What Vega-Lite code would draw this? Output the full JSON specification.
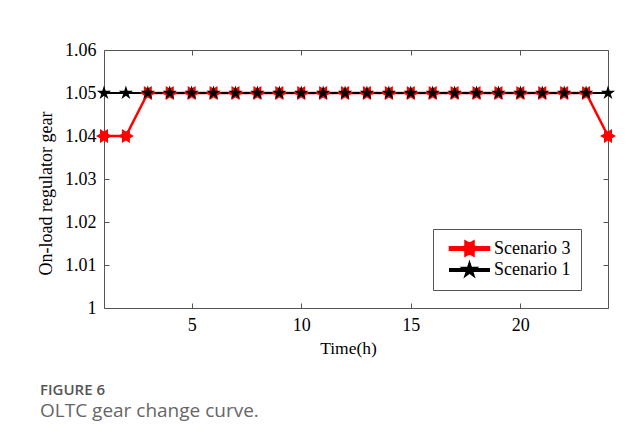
{
  "$schema": "https://vega.github.io/schema/vega-lite/v6.json",
  "width": 504,
  "height": 258,
  "autosize": {"type": "none"},
  "padding": {"left": 104, "top": 50, "right": 36, "bottom": 131},
  "background": "white",
  "title": {
    "text": "FIGURE 6",
    "subtitle": "OLTC gear change curve.",
    "orient": "bottom",
    "anchor": "start",
    "frame": "group",
    "dx": -64,
    "offset": 26,
    "font": "Open Sans",
    "fontSize": 15,
    "fontWeight": 600,
    "color": "#555555",
    "subtitleFont": "Open Sans",
    "subtitleFontSize": 19,
    "subtitleFontWeight": "normal",
    "subtitleColor": "#666666",
    "subtitlePadding": 4
  },
  "data": {
    "values": [
      {"hour": 1, "gear": 1.04, "series": "Scenario 3"},
      {"hour": 2, "gear": 1.04, "series": "Scenario 3"},
      {"hour": 3, "gear": 1.05, "series": "Scenario 3"},
      {"hour": 4, "gear": 1.05, "series": "Scenario 3"},
      {"hour": 5, "gear": 1.05, "series": "Scenario 3"},
      {"hour": 6, "gear": 1.05, "series": "Scenario 3"},
      {"hour": 7, "gear": 1.05, "series": "Scenario 3"},
      {"hour": 8, "gear": 1.05, "series": "Scenario 3"},
      {"hour": 9, "gear": 1.05, "series": "Scenario 3"},
      {"hour": 10, "gear": 1.05, "series": "Scenario 3"},
      {"hour": 11, "gear": 1.05, "series": "Scenario 3"},
      {"hour": 12, "gear": 1.05, "series": "Scenario 3"},
      {"hour": 13, "gear": 1.05, "series": "Scenario 3"},
      {"hour": 14, "gear": 1.05, "series": "Scenario 3"},
      {"hour": 15, "gear": 1.05, "series": "Scenario 3"},
      {"hour": 16, "gear": 1.05, "series": "Scenario 3"},
      {"hour": 17, "gear": 1.05, "series": "Scenario 3"},
      {"hour": 18, "gear": 1.05, "series": "Scenario 3"},
      {"hour": 19, "gear": 1.05, "series": "Scenario 3"},
      {"hour": 20, "gear": 1.05, "series": "Scenario 3"},
      {"hour": 21, "gear": 1.05, "series": "Scenario 3"},
      {"hour": 22, "gear": 1.05, "series": "Scenario 3"},
      {"hour": 23, "gear": 1.05, "series": "Scenario 3"},
      {"hour": 24, "gear": 1.04, "series": "Scenario 3"},
      {"hour": 1, "gear": 1.05, "series": "Scenario 1"},
      {"hour": 2, "gear": 1.05, "series": "Scenario 1"},
      {"hour": 3, "gear": 1.05, "series": "Scenario 1"},
      {"hour": 4, "gear": 1.05, "series": "Scenario 1"},
      {"hour": 5, "gear": 1.05, "series": "Scenario 1"},
      {"hour": 6, "gear": 1.05, "series": "Scenario 1"},
      {"hour": 7, "gear": 1.05, "series": "Scenario 1"},
      {"hour": 8, "gear": 1.05, "series": "Scenario 1"},
      {"hour": 9, "gear": 1.05, "series": "Scenario 1"},
      {"hour": 10, "gear": 1.05, "series": "Scenario 1"},
      {"hour": 11, "gear": 1.05, "series": "Scenario 1"},
      {"hour": 12, "gear": 1.05, "series": "Scenario 1"},
      {"hour": 13, "gear": 1.05, "series": "Scenario 1"},
      {"hour": 14, "gear": 1.05, "series": "Scenario 1"},
      {"hour": 15, "gear": 1.05, "series": "Scenario 1"},
      {"hour": 16, "gear": 1.05, "series": "Scenario 1"},
      {"hour": 17, "gear": 1.05, "series": "Scenario 1"},
      {"hour": 18, "gear": 1.05, "series": "Scenario 1"},
      {"hour": 19, "gear": 1.05, "series": "Scenario 1"},
      {"hour": 20, "gear": 1.05, "series": "Scenario 1"},
      {"hour": 21, "gear": 1.05, "series": "Scenario 1"},
      {"hour": 22, "gear": 1.05, "series": "Scenario 1"},
      {"hour": 23, "gear": 1.05, "series": "Scenario 1"},
      {"hour": 24, "gear": 1.05, "series": "Scenario 1"}
    ]
  },
  "layer": [
    {
      "mark": {"type": "line"},
      "encoding": {
        "x": {
          "field": "hour", "type": "quantitative",
          "scale": {"domain": [1, 24], "nice": false, "zero": false},
          "axis": {
            "orient": "bottom", "values": [5, 10, 15, 20], "title": "Time(h)",
            "titleX": 244, "titlePadding": 5, "titleFontSize": 17.5
          }
        },
        "y": {
          "field": "gear", "type": "quantitative",
          "scale": {"domain": [1, 1.06], "nice": false, "zero": false},
          "axis": {
            "orient": "left", "values": [1, 1.01, 1.02, 1.03, 1.04, 1.05, 1.06],
            "format": ".2~f", "title": "On-load regulator gear", "titlePadding": 9,
            "titleY": 143
          }
        },
        "color": {
          "field": "series", "type": "nominal",
          "scale": {"domain": ["Scenario 3", "Scenario 1"], "range": ["#ff0000", "#000000"]},
          "legend": {
            "title": null,
            "orient": "none",
            "legendX": 329,
            "legendY": 179,
            "symbolSize": 256,
            "symbolOffset": 17,
            "encode": {
              "symbols": {
                "update": {
                  "shape": {"signal": "datum.value === 'Scenario 3' ? 'M-2.44,-0.16 L2.44,-0.16 L2.44,0.16 L-2.44,0.16 Z M-1,0 L-0.5,-0.289 L-0.5,-0.866 L0,-0.577 L0.5,-0.866 L0.5,-0.289 L1,0 L0.5,0.289 L0.5,0.866 L0,0.577 L-0.5,0.866 L-0.5,0.289 Z' : 'M-2.44,-0.13 L2.44,-0.13 L2.44,0.13 L-2.44,0.13 Z M0,-0.9 L0.202,-0.278 L0.856,-0.278 L0.327,0.106 L0.529,0.728 L0,0.344 L-0.529,0.728 L-0.327,0.106 L-0.856,-0.278 L-0.202,-0.278 Z'"},
                  "size": {"value": 256},
                  "fill": {"signal": "datum.value === 'Scenario 3' ? '#ff0000' : '#000000'"},
                  "stroke": {"signal": "datum.value === 'Scenario 3' ? '#ff0000' : '#000000'"},
                  "strokeWidth": {"value": 0.5},
                  "opacity": {"value": 1}
                }
              }
            }
          }
        },
        "strokeWidth": {
          "field": "series", "type": "nominal",
          "scale": {"domain": ["Scenario 3", "Scenario 1"], "range": [2.5, 2]},
          "legend": null
        }
      }
    },
    {
      "transform": [{"filter": "datum.series === 'Scenario 3'"}],
      "mark": {
        "type": "point", "filled": true, "opacity": 1, "color": "#ff0000", "size": 256,
        "shape": "M-1,0 L-0.5,-0.289 L-0.5,-0.866 L0,-0.577 L0.5,-0.866 L0.5,-0.289 L1,0 L0.5,0.289 L0.5,0.866 L0,0.577 L-0.5,0.866 L-0.5,0.289 Z"
      },
      "encoding": {
        "x": {
          "field": "hour", "type": "quantitative",
          "axis": {"orient": "top", "values": [5, 10, 15, 20], "labels": false, "title": null}
        },
        "y": {
          "field": "gear", "type": "quantitative",
          "axis": {"orient": "right", "values": [1, 1.01, 1.02, 1.03, 1.04, 1.05, 1.06], "labels": false, "title": null}
        }
      }
    },
    {
      "transform": [{"filter": "datum.series === 'Scenario 1'"}],
      "mark": {
        "type": "point", "filled": true, "opacity": 1, "color": "#000000", "size": 225,
        "shape": "M0,-1 L0.2245,-0.309 L0.951,-0.309 L0.363,0.118 L0.588,0.809 L0,0.382 L-0.588,0.809 L-0.363,0.118 L-0.951,-0.309 L-0.2245,-0.309 Z"
      },
      "encoding": {
        "x": {"field": "hour", "type": "quantitative", "axis": null},
        "y": {"field": "gear", "type": "quantitative", "axis": null}
      }
    }
  ],
  "resolve": {"axis": {"x": "independent", "y": "independent"}},
  "config": {
    "view": {"stroke": "#555555", "strokeWidth": 1},
    "axis": {
      "grid": false,
      "domain": false,
      "tickSize": -5,
      "tickColor": "#555555",
      "tickWidth": 1,
      "labelFont": "Liberation Serif",
      "labelFontSize": 18,
      "labelColor": "#000000",
      "labelPadding": 13,
      "titleFont": "Liberation Serif",
      "titleFontSize": 18,
      "titleFontWeight": "normal",
      "titleColor": "#000000"
    },
    "legend": {
      "strokeColor": "#555555",
      "fillColor": "#ffffff",
      "padding": 10,
      "labelFont": "Liberation Serif",
      "labelFontSize": 18,
      "labelColor": "#000000",
      "labelOffset": 15,
      "rowPadding": -4,
      "cornerRadius": 0
    }
  }
}
